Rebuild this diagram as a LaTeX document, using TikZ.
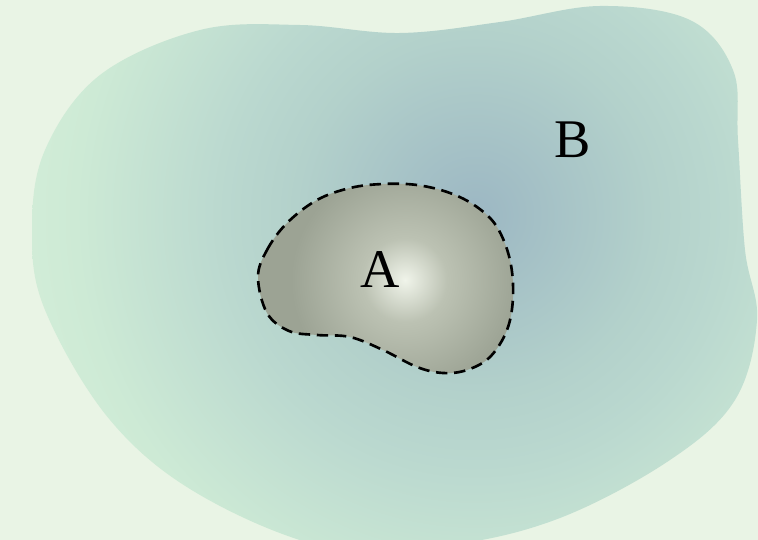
\documentclass[tikz,border=0pt]{standalone}
\usepackage{fontspec}
\setmainfont{Liberation Serif}

\definecolor{fundo}{HTML}{E9F4E5}
\definecolor{bcentro}{HTML}{9CB7C3}
\definecolor{bmeio}{HTML}{B3D1CB}
\definecolor{bclaro}{HTML}{BAD8CF}
\definecolor{bverde}{HTML}{CDEAD5}
\definecolor{bborda}{HTML}{D6EFDA}
\definecolor{acentro}{HTML}{F0F4EA}
\definecolor{amedio}{HTML}{BCC2B3}
\definecolor{aborda}{HTML}{9CA394}

% 25bp = raio do circulo sombreado
\pgfdeclareradialshading{sombraB}{\pgfpointorigin}{
  color(0bp)=(bcentro); color(9bp)=(bmeio); color(12.5bp)=(bclaro);
  color(20bp)=(bverde); color(25bp)=(bborda); color(50bp)=(bborda)}
\pgfdeclareradialshading{sombraA}{\pgfpointorigin}{
  color(0bp)=(acentro); color(7bp)=(amedio); color(19bp)=(aborda);
  color(50bp)=(aborda)}

\begin{document}
\begin{tikzpicture}[
    x=0.02cm, y=-0.02cm,
    rotulo/.style={inner sep=0pt, font=\fontsize{31}{35}\selectfont},
    contornoA/.style={line width=1.5pt, dash pattern=on 6.5pt off 3.8pt},
  ]

  % Fundo
  \useasboundingbox[fill=fundo] (0,0) rectangle (758,540);
  \clip (0,0) rectangle (758,540);

  % Conjunto B
  \begin{scope}
    \clip plot[smooth cycle, tension=0.6] coordinates {
      (45,150) (100,75) (200,30) (300,25) (400,33) (500,22) (600,6) (690,20)
      (733,70) (738,140) (745,250) (757,320) (735,400) (670,460) (560,518)
      (450,545) (330,548) (200,495) (110,420) (45,310) (32,230)};
    \shade[shading=sombraB] (475,215) circle (10cm);
  \end{scope}

  % Conjunto A
  \begin{scope}
    \clip plot[smooth cycle, tension=0.6] coordinates {
      (258,277) (267,250) (287,223) (317,200) (350,188) (383,184) (417,185)
      (450,193) (477,207) (497,227) (510,260) (513,297) (507,330) (490,357)
      (467,370) (443,373) (417,367) (383,350) (350,337) (317,335) (289,331)
      (267,313)};
    \shade[shading=sombraA] (405,280) circle (3cm);
  \end{scope}
  \draw[contornoA] plot[smooth cycle, tension=0.6] coordinates {
      (258,277) (267,250) (287,223) (317,200) (350,188) (383,184) (417,185)
      (450,193) (477,207) (497,227) (510,260) (513,297) (507,330) (490,357)
      (467,370) (443,373) (417,367) (383,350) (350,337) (317,335) (289,331)
      (267,313)};

  % Rotulos
  \node[rotulo] (rotA) at (380,270) {A};
  \node[rotulo] (rotB) at (573,140) {B};
\end{tikzpicture}
\end{document}
